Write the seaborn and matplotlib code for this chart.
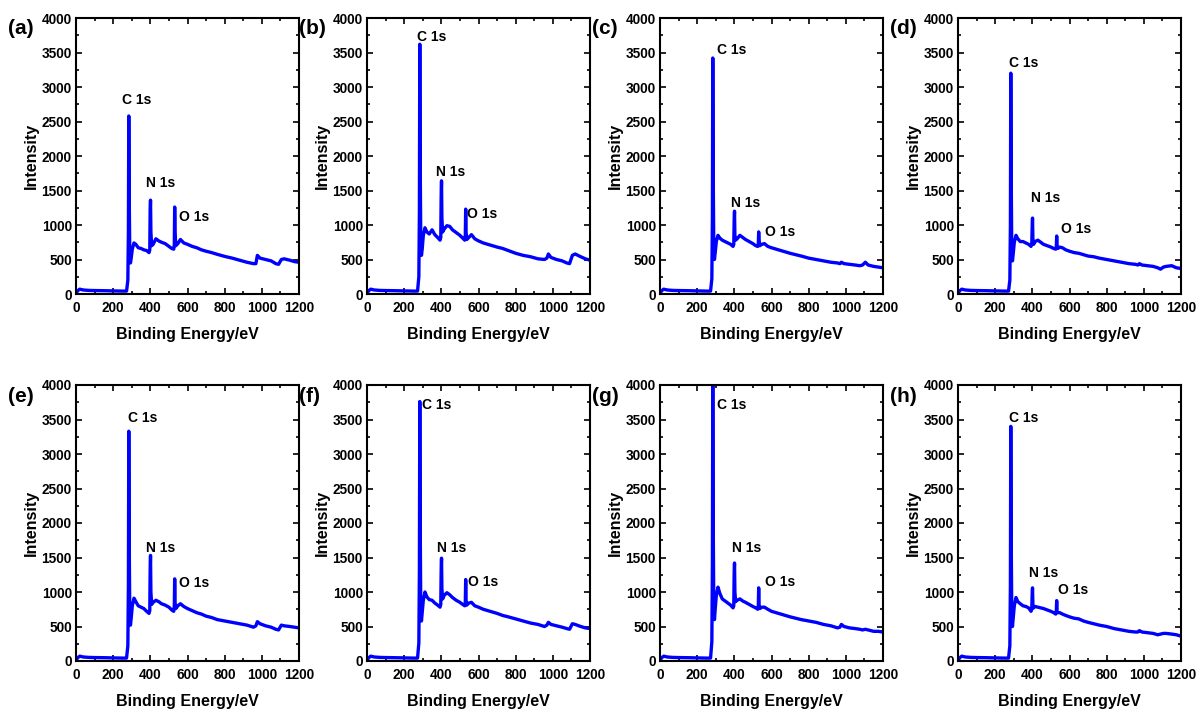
import numpy as np
import pandas as pd
import matplotlib
matplotlib.use("Agg")
import matplotlib.pyplot as plt
import seaborn as sns
from matplotlib.ticker import MultipleLocator

sns.set_theme(style="ticks")
plt.rcParams['font.family'] = ['Liberation Sans', 'DejaVu Sans']
plt.rcParams['font.weight'] = 'bold'
plt.rcParams['text.color'] = 'black'
plt.rcParams['axes.labelcolor'] = 'black'
plt.rcParams['xtick.color'] = 'black'
plt.rcParams['ytick.color'] = 'black'

# Binding energy grid (eV)
energy = [0, 8, 20, 40, 70, 100, 150, 200, 250, 272, 279, 282, 284, 286, 289, 293, 297, 303,
          312, 322, 335, 350, 365, 380, 393, 397, 399, 401, 403, 407, 415, 430, 445, 460, 480,
          500, 515, 526, 529, 531, 533, 537, 548, 562, 580, 600, 625, 650, 675, 700, 730, 760,
          800, 840, 880, 920, 955, 968, 976, 990, 1020, 1050, 1075, 1090, 1105, 1120, 1150, 1175, 1200]

low = [0, 45, 70, 58, 52, 50, 48, 45, 42, 42]

int_a = low + [200, 900, 2580, 1500, 700, 450, 520, 650, 740, 720, 670, 660, 640, 630, 600, 640,
               1200, 1360, 900, 700, 720, 800, 770, 750, 730, 690, 660, 650, 720, 1260, 900, 700,
               730, 790, 740, 720, 690, 670, 640, 620, 600, 575, 545, 520, 490, 460, 440, 440, 560,
               520, 500, 480, 440, 430, 500, 510, 490, 470, 460]
int_b = low + [250, 1200, 3620, 2000, 900, 560, 650, 850, 960, 900, 870, 930, 860, 820, 780, 820,
               1400, 1640, 1100, 900, 940, 990, 980, 930, 890, 850, 810, 780, 850, 1230, 900, 790,
               820, 860, 800, 770, 740, 720, 700, 680, 660, 630, 590, 560, 540, 510, 500, 520, 580,
               530, 500, 480, 450, 440, 560, 580, 540, 510, 490]
int_c = low + [220, 1100, 3420, 1900, 800, 500, 600, 760, 850, 810, 780, 760, 740, 720, 690, 720,
               1050, 1200, 850, 780, 800, 850, 820, 790, 760, 730, 700, 690, 720, 900, 780, 700,
               720, 730, 690, 670, 650, 630, 610, 590, 570, 550, 520, 500, 480, 460, 450, 440, 460,
               440, 430, 420, 410, 420, 460, 420, 400, 390, 380]
int_d = low + [200, 1000, 3200, 1800, 750, 480, 580, 750, 850, 800, 760, 760, 740, 720, 690, 720,
               950, 1100, 800, 720, 760, 780, 750, 720, 700, 680, 660, 650, 680, 840, 700, 660,
               680, 670, 640, 620, 600, 590, 570, 550, 540, 520, 500, 480, 460, 440, 430, 420, 440,
               420, 410, 400, 380, 360, 390, 400, 410, 380, 370]
int_e = low + [220, 1100, 3330, 1900, 800, 520, 620, 800, 910, 860, 800, 780, 760, 720, 690, 730,
               1300, 1530, 1000, 820, 850, 880, 860, 830, 810, 780, 740, 720, 800, 1190, 850, 760,
               800, 830, 790, 760, 730, 700, 680, 650, 630, 600, 580, 560, 540, 520, 490, 510, 570,
               540, 510, 490, 460, 450, 520, 510, 500, 490, 480]
int_f = low + [260, 1300, 3760, 2100, 900, 580, 700, 880, 1000, 930, 890, 880, 840, 810, 780, 820,
               1300, 1490, 1050, 900, 950, 990, 960, 920, 880, 850, 820, 800, 850, 1180, 880, 810,
               840, 850, 800, 780, 750, 730, 710, 690, 660, 640, 610, 580, 550, 530, 500, 520, 560,
               530, 510, 490, 470, 460, 540, 530, 500, 480, 470]
int_g = low + [280, 1400, 3990, 2200, 950, 600, 750, 950, 1070, 980, 900, 870, 840, 810, 770, 800,
               1250, 1420, 1000, 860, 880, 900, 870, 850, 820, 790, 770, 750, 790, 1060, 820, 760,
               780, 780, 750, 720, 700, 680, 660, 640, 620, 600, 580, 560, 530, 510, 480, 490, 530,
               500, 480, 470, 460, 450, 460, 450, 430, 430, 420]
int_h = low + [220, 1100, 3400, 1900, 800, 500, 620, 800, 920, 860, 830, 800, 790, 770, 720, 750,
               950, 1060, 820, 770, 790, 780, 770, 760, 740, 720, 700, 680, 720, 875, 720, 700,
               700, 680, 660, 640, 620, 610, 580, 560, 540, 520, 500, 470, 450, 430, 420, 420, 440,
               420, 410, 400, 380, 390, 400, 400, 390, 380, 360]

panel_letters = ['(a)', '(b)', '(c)', '(d)', '(e)', '(f)', '(g)', '(h)']
intensities = [int_a, int_b, int_c, int_d, int_e, int_f, int_g, int_h]
peak_names = ['C 1s', 'N 1s', 'O 1s']
# label positions (x, y) in data coords per panel for C, N, O
label_pos = [
    [(324, 2810), (454, 1610), (638, 1116)],
    [(346, 3725), (449, 1768), (622, 1160)],
    [(384, 3536), (459, 1319), (649, 900)],
    [(351, 3348), (470, 1391), (638, 942)],
    [(357, 3522), (454, 1638), (638, 1130)],
    [(373, 3710), (454, 1638), (627, 1145)],
    [(384, 3710), (465, 1638), (649, 1145)],
    [(351, 3522), (459, 1275), (622, 1029)],
]

W, H = 1198, 711
fig = plt.figure(figsize=(W / 100, H / 100), dpi=100)
lefts = [76, 367, 660, 958]
tops = [18, 385]
aw, ah = 223, 276

for i in range(8):
    r, c = divmod(i, 4)
    L, T = lefts[c], tops[r]
    ax = fig.add_axes([L / W, 1 - (T + ah) / H, aw / W, ah / H])
    df = pd.DataFrame({'Binding Energy': energy, 'Intensity': intensities[i]})
    sns.lineplot(data=df, x='Binding Energy', y='Intensity', ax=ax, color='#0000ff',
                 linewidth=2.4, sort=False)
    ax.set_xlim(0, 1200)
    ax.set_ylim(0, 4000)
    ax.xaxis.set_major_locator(MultipleLocator(200))
    ax.xaxis.set_minor_locator(MultipleLocator(100))
    ax.yaxis.set_major_locator(MultipleLocator(500))
    ax.yaxis.set_minor_locator(MultipleLocator(250))
    ax.tick_params(which='both', direction='in', top=True, right=True, width=1.2,
                   labelsize=9.8, colors='black')
    ax.tick_params(axis='x', pad=5)
    ax.tick_params(axis='y', pad=3)
    ax.tick_params(which='major', length=4)
    ax.tick_params(which='minor', length=2)
    for lab in ax.get_xticklabels() + ax.get_yticklabels():
        lab.set_fontweight('bold')
    for sp in ax.spines.values():
        sp.set_linewidth(1.5)
        sp.set_color('black')
    ax.set_xlabel('Binding Energy/eV', fontsize=11.5, fontweight='bold', labelpad=9)
    ax.set_ylabel('Intensity', fontsize=11.5, fontweight='bold', labelpad=2)
    for name, (lx, ly) in zip(peak_names, label_pos[i]):
        ax.text(lx, ly, name, ha='center', va='center', fontsize=10, fontweight='bold')
    fig.text((L - 68) / W, 1 - (T + 11) / H, panel_letters[i], ha='left', va='center',
             fontsize=15, fontweight='bold')

fig.savefig('out.png', dpi=100)
